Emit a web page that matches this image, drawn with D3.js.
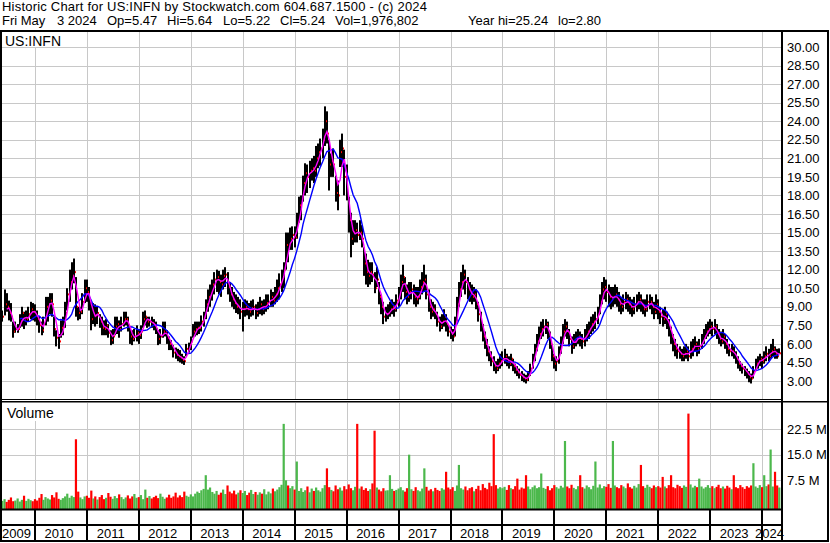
<!DOCTYPE html>
<html><head><meta charset="utf-8">
<script src="https://cdn.jsdelivr.net/npm/d3@7"></script>
<style>
body{margin:0;background:#fff}
svg{display:block}
text{font-family:"Liberation Sans",Arial,sans-serif;fill:#000}
</style>
</head><body>
<svg id="c" width="830" height="543"></svg>
<script>
const title1 = "Historic Chart for US:INFN by Stockwatch.com 604.687.1500 - (c) 2024";
const title2 = "Fri May  3 2024  Op=5.47  Hi=5.64  Lo=5.22  Cl=5.24  Vol=1,976,802  Year hi=25.24  lo=2.80";
const symbol = "US:INFN";
const volumeLabel = "Volume";
const priceTicks = [3,4.5,6,7.5,9,10.5,12,13.5,15,16.5,18,19.5,21,22.5,24,25.5,27,28.5,30];
const volTicks = [7.5,15,22.5];
const years = [2009,2010,2011,2012,2013,2014,2015,2016,2017,2018,2019,2020,2021,2022,2023,2024];

// semi-monthly bars, first one 2009-05-16, last one 2024-05-01
const high = [
8.7,10.4,10.1,9.5,9.3,7.8,7.8,7.6,8.4,9.0,8.6,8.7,9.0,9.4,9.3,
9.2,8.7,8.2,7.8,8.2,9.8,9.8,10.1,10.1,8.2,7.1,6.8,7.9,8.2,9.4,10.5,12.0,12.6,12.9,11.4,9.0,9.0,10.1,11.2,
11.2,10.6,9.4,9.3,9.2,9.0,8.4,8.2,7.9,8.0,7.6,7.1,7.2,8.2,8.2,7.9,8.2,8.6,8.6,8.2,7.4,7.1,7.2,7.5,
7.2,7.5,8.6,8.7,8.2,8.2,8.2,8.0,7.8,7.1,7.2,7.8,7.8,7.1,6.6,6.3,5.9,5.7,5.6,5.5,5.2,5.0,6.0,6.1,
6.6,7.6,7.8,7.8,7.8,8.3,8.6,9.6,10.4,10.8,11.2,11.8,12.0,11.9,11.6,12.0,12.2,11.8,11.0,10.6,10.2,10.0,9.8,9.6,
9.4,9.6,9.5,9.3,9.5,9.6,9.2,9.4,9.8,9.5,9.6,10.0,10.0,10.4,10.2,10.6,11.2,11.7,12.0,12.6,15.0,15.0,15.4,15.5,
15.5,16.6,17.9,18.0,19.6,20.6,20.5,20.8,21.0,21.2,22.0,22.2,22.6,23.4,25.2,24.8,22.5,21.4,21.8,19.6,19.2,22.5,23.0,21.7,
20.5,17.9,16.6,16.0,16.0,15.8,16.0,15.6,13.8,13.3,12.8,12.6,12.6,11.8,12.2,11.0,10.0,9.4,9.0,9.2,9.4,9.6,9.4,10.0,
10.6,11.6,12.4,11.4,10.8,11.0,11.0,10.8,10.6,10.6,11.2,11.8,12.4,11.6,10.4,9.6,9.4,9.2,8.6,8.2,8.4,8.8,8.4,7.6,
7.4,7.2,8.2,9.8,11.0,11.8,12.4,12.0,11.4,11.0,10.8,10.6,10.4,9.4,8.6,7.6,7.0,6.4,5.8,5.4,5.0,4.6,4.8,5.2,
5.4,5.6,5.2,5.0,5.2,4.8,4.4,4.2,4.0,3.8,3.6,3.5,3.8,4.4,5.2,6.0,6.8,7.4,7.8,8.0,8.0,7.8,7.0,6.0,
5.2,5.0,5.8,6.6,7.6,8.0,7.8,7.2,6.6,6.8,7.0,7.2,7.0,6.8,7.2,7.6,7.8,8.2,8.4,8.6,9.0,10.0,11.0,11.4,
11.2,10.8,10.6,10.6,10.8,10.6,10.2,9.8,10.0,10.2,10.0,9.8,9.6,9.8,10.0,10.2,10.0,9.6,9.6,10.0,10.0,9.8,9.4,10.0,
9.6,9.0,8.8,9.0,8.6,8.0,7.4,6.8,6.4,6.0,5.8,5.6,5.8,6.0,5.8,6.2,6.4,6.6,6.2,6.4,6.8,7.2,7.6,7.8,
8.0,7.8,8.0,7.6,7.2,7.0,7.2,6.8,6.4,6.0,6.0,5.8,5.4,5.0,4.6,4.4,4.2,4.0,3.8,3.6,4.2,4.8,5.0,5.2,
5.0,5.4,5.8,5.6,6.0,6.4,5.8,5.6,5.64];
const low = [
7.8,8.3,8.6,7.9,7.8,6.5,6.9,6.9,7.3,7.4,7.2,7.5,7.8,8.0,7.9,
7.8,7.5,6.9,6.7,6.9,7.5,7.8,8.4,8.2,6.6,5.8,5.6,6.5,6.7,7.3,8.7,9.4,10.4,10.9,8.2,7.9,8.0,8.4,9.3,
9.4,8.7,7.1,7.6,7.4,7.6,7.3,6.7,6.7,6.7,6.5,5.9,6.0,6.7,6.8,6.5,7.0,7.4,7.5,7.0,6.0,5.9,6.2,6.2,
6.0,6.4,7.3,7.5,7.3,7.4,7.3,7.1,6.8,5.9,6.0,6.5,6.6,6.0,5.5,5.5,4.9,4.8,4.6,4.5,4.4,4.3,5.0,5.3,
5.5,6.5,6.6,6.7,6.8,7.0,7.4,8.0,8.6,9.0,9.5,10.0,10.2,10.0,9.8,10.4,10.6,10.0,9.4,9.0,8.8,8.5,8.4,8.0,
7.0,8.2,8.3,8.0,8.2,8.3,8.0,8.2,8.4,8.3,8.4,8.6,8.8,9.0,9.0,9.2,9.4,9.6,10.2,10.5,12.0,12.6,13.6,13.6,
13.8,14.5,15.8,16.0,17.5,18.0,18.2,18.6,19.2,19.0,19.5,20.2,20.4,21.0,22.0,22.2,18.4,19.5,19.5,17.5,16.8,20.3,20.3,18.0,
17.6,15.0,13.0,14.0,14.2,14.2,14.4,13.8,11.5,10.8,10.6,10.8,11.0,10.1,10.6,9.2,8.4,7.6,7.8,8.0,8.2,8.4,8.2,8.6,
9.0,9.6,10.2,9.6,9.2,9.4,9.6,9.2,9.0,9.2,9.6,10.0,10.2,9.6,8.6,8.0,8.2,8.0,7.4,7.0,7.2,7.4,7.0,6.6,
6.4,6.2,6.6,7.8,9.0,9.8,10.4,10.0,9.6,9.4,9.2,9.4,8.8,7.8,7.0,6.2,5.6,5.0,4.6,4.2,3.8,3.6,3.8,4.0,
4.2,4.4,4.2,4.0,4.2,3.8,3.6,3.4,3.2,3.0,2.9,2.8,3.0,3.4,4.0,4.6,5.4,6.0,6.4,6.6,6.8,6.4,5.6,4.6,
4.0,3.8,4.4,5.2,6.0,6.6,6.4,5.8,5.2,5.6,5.8,6.0,5.8,5.6,5.8,6.2,6.4,6.8,7.0,7.2,7.6,8.4,9.2,9.6,
9.4,9.0,8.8,9.0,9.2,9.0,8.6,8.4,8.6,8.8,8.6,8.4,8.2,8.4,8.6,8.8,8.6,8.4,8.2,8.6,8.8,8.4,8.0,8.4,
8.0,7.6,7.4,7.6,7.2,6.6,6.0,5.4,5.0,4.8,4.8,4.6,4.6,4.8,4.6,4.8,5.0,5.4,5.0,5.2,5.6,6.0,6.4,6.6,
6.8,6.6,6.8,6.4,6.0,5.8,6.0,5.6,5.2,5.0,5.0,4.8,4.4,4.0,3.8,3.6,3.4,3.2,2.9,2.8,3.2,3.8,4.0,4.2,
4.0,4.4,4.6,4.6,4.8,5.0,4.8,4.8,5.22];
const close = [
8.2,9.2,9.0,8.5,8.2,7.0,7.2,7.2,7.8,8.5,7.9,8.0,8.4,8.8,8.6,
8.4,8.0,7.5,7.1,7.6,9.0,9.2,9.5,9.2,7.2,6.5,6.2,7.3,7.4,8.5,10.0,11.0,11.5,11.8,9.0,8.5,8.6,9.4,10.5,
10.2,9.5,8.0,8.4,8.3,8.5,7.8,7.3,7.2,7.5,6.9,6.3,6.6,7.4,7.6,7.2,7.6,8.0,8.0,7.5,6.6,6.4,6.6,6.9,
6.7,7.0,8.0,8.2,7.8,7.8,7.7,7.5,7.2,6.4,6.6,7.0,7.0,6.5,6.0,5.9,5.3,5.1,5.0,4.9,4.7,4.6,5.6,5.9,
6.2,7.0,7.2,7.3,7.3,7.8,8.2,9.2,9.8,10.0,10.8,11.2,11.4,11.0,10.8,11.5,11.6,10.6,10.0,9.6,9.3,9.0,9.0,8.6,
8.8,9.0,8.8,8.6,8.9,9.0,8.5,8.8,9.2,8.8,9.0,9.3,9.4,9.8,9.5,10.0,10.5,10.8,11.4,12.0,14.0,13.8,14.5,14.8,
14.6,15.8,17.2,17.5,19.0,19.8,19.5,20.0,20.2,20.0,21.0,21.5,21.8,22.5,24.0,23.0,20.5,20.8,20.5,18.2,18.0,21.5,21.8,19.5,
18.0,16.0,14.5,15.0,15.2,14.8,15.0,14.5,12.5,11.8,11.5,11.8,11.6,10.5,11.2,9.8,9.0,8.2,8.4,8.5,8.8,9.0,8.8,9.5,
10.0,11.0,11.4,10.2,9.8,10.2,10.4,9.8,9.6,9.8,10.6,11.0,11.2,10.0,9.0,8.6,8.8,8.4,7.8,7.4,7.8,8.2,7.6,7.0,
6.8,6.6,7.8,9.2,10.4,11.0,11.6,11.0,10.4,10.0,9.8,10.0,9.2,8.4,7.6,6.6,6.0,5.4,5.0,4.6,4.2,4.0,4.4,4.6,
4.8,5.0,4.6,4.4,4.8,4.2,3.9,3.7,3.5,3.3,3.2,3.1,3.5,4.0,4.8,5.6,6.2,6.8,7.2,7.4,7.6,7.0,6.0,5.0,
4.4,4.6,5.4,6.0,7.0,7.4,7.0,6.4,5.8,6.2,6.4,6.6,6.4,6.2,6.6,7.0,7.2,7.6,7.8,8.0,8.4,9.4,10.4,10.6,
10.2,9.8,9.6,9.8,10.0,9.6,9.2,9.0,9.4,9.6,9.2,9.0,8.8,9.2,9.4,9.6,9.2,8.8,8.8,9.4,9.4,9.0,8.6,9.2,
8.6,8.2,8.0,8.4,7.8,7.2,6.6,6.0,5.6,5.4,5.2,5.0,5.2,5.4,5.0,5.6,5.8,6.0,5.6,5.8,6.2,6.6,7.0,7.2,
7.4,7.2,7.4,6.8,6.4,6.2,6.6,6.0,5.6,5.4,5.4,5.2,4.8,4.4,4.2,4.0,3.8,3.6,3.3,3.2,3.8,4.4,4.6,4.8,
4.6,5.0,5.2,5.0,5.4,5.6,5.2,5.0,5.24];
// volume in millions (tallest daily bar in each half month)
const volume = [
1.5,2.0,1.2,1.8,2.5,1.4,1.6,2.2,1.3,1.8,3.0,1.5,2.1,1.7,1.4,
2.0,1.6,2.4,3.5,1.8,2.6,2.2,1.9,3.2,2.5,4.0,2.1,1.8,2.3,2.8,3.6,2.4,3.0,2.6,19.5,4.2,2.5,2.0,2.8,
3.0,2.4,4.5,2.2,2.8,1.9,2.6,3.2,2.0,2.4,3.8,2.7,2.1,2.9,2.3,3.4,2.6,2.0,2.5,3.1,2.2,2.8,3.5,2.4,
2.6,3.2,2.0,4.8,2.4,2.9,2.2,2.6,3.0,2.3,3.6,2.7,2.1,2.5,3.3,2.4,2.8,3.9,2.5,3.1,2.6,4.2,3.0,2.7,
3.4,2.8,3.6,4.2,3.8,4.6,5.0,9.0,4.8,5.4,4.1,3.6,4.4,3.3,3.9,4.8,3.5,6.0,4.2,3.7,4.5,3.4,3.9,4.6,
3.8,4.4,3.2,3.9,4.7,3.5,4.1,3.3,4.0,3.6,4.9,3.4,4.2,3.7,5.1,4.3,4.8,5.5,6.2,24.0,7.5,6.0,5.2,5.8,
4.8,13.0,4.4,5.2,4.1,4.6,5.7,4.0,5.1,4.4,5.4,4.6,4.2,5.2,6.1,11.0,5.5,4.7,4.3,6.0,4.9,5.4,4.5,5.8,
4.9,6.3,5.2,4.6,5.6,24.0,5.1,5.7,4.7,5.2,4.4,4.9,6.6,22.0,5.4,4.8,4.3,5.2,4.5,4.6,9.0,5.0,4.4,4.7,
5.1,5.5,4.6,4.2,5.2,15.0,4.9,4.4,5.5,4.6,4.3,5.1,11.0,5.6,4.5,4.9,4.3,5.3,4.7,4.4,5.2,4.8,10.0,5.4,
4.9,5.5,4.4,6.0,12.0,5.2,4.8,5.7,4.6,5.2,5.5,4.3,5.0,5.9,4.6,6.4,5.3,4.9,6.8,5.8,21.0,6.1,5.1,5.5,
5.2,5.6,4.7,6.1,5.2,4.9,5.8,8.0,4.8,5.4,5.1,9.0,5.7,4.9,5.5,6.0,5.2,5.5,9.5,5.3,5.0,5.8,4.6,5.2,
6.1,5.5,5.1,5.9,5.4,19.0,5.7,5.2,6.2,5.3,4.9,5.8,9.0,5.5,5.1,6.0,5.5,4.9,5.9,13.0,5.4,6.3,5.2,5.8,
5.6,6.4,5.3,19.0,6.0,5.5,5.2,6.1,5.7,5.2,6.6,5.5,5.1,5.9,5.4,6.4,12.0,5.8,5.3,6.2,5.6,5.2,6.0,5.5,
5.8,5.4,8.5,5.7,5.2,6.1,9.0,5.5,5.2,6.2,5.8,5.3,6.0,5.6,27.0,6.3,5.4,5.9,5.5,8.0,5.7,5.1,5.5,6.1,
5.3,5.8,5.2,5.6,6.2,5.2,5.7,5.1,5.9,5.4,4.9,9.0,5.5,5.2,6.1,5.5,5.0,5.8,5.4,6.0,12.5,5.7,5.3,6.1,
5.5,9.0,5.8,6.3,16.5,5.7,10.0,6.0,5.4];

const shortWin = 3, longWin = 9;

const svg = d3.select("#c");
const X0 = 2, X1 = 781;
const PT = 32, PB = 399, VT = 403, VB = 509;

const dates = close.map((_, i) => new Date(2009, 4 + Math.floor((i + 1) / 2), (i + 1) % 2 ? 16 : 1));
const x = d3.scaleTime().domain([new Date(2009, 4, 14), new Date(2024, 4, 13)]).range([X0, X1]);
const yP = d3.scaleLinear().domain([3, 30]).range([381, 47]);
const yV = d3.scaleLinear().domain([0, 22.5]).range([506, 429]);

svg.append("rect").attr("width", 830).attr("height", 543).attr("fill", "#fff");

// header
svg.append("text").attr("x", 2).attr("y", 11).attr("font-size", 13)
  .attr("textLength", 425).attr("lengthAdjust", "spacing").text(title1);
const seg = title2.split(/\s{2,}/);
const segX = [2, 57, 107, 167, 223, 280, 335, 468, 558];
svg.append("g").selectAll("text").data(seg).join("text")
  .attr("x", (d, i) => segX[i]).attr("y", 25).attr("font-size", 13).text(d => d);

const defs = svg.append("defs");
defs.append("clipPath").attr("id", "cp").append("rect").attr("x", X0).attr("y", PT).attr("width", X1 - X0).attr("height", PB - PT);
defs.append("clipPath").attr("id", "cv").append("rect").attr("x", X0).attr("y", VT).attr("width", X1 - X0).attr("height", VB - VT);

const yearStarts = years.slice(1).map(y => new Date(y, 0, 1));
const grid = "#c8c8c8";
const snap = v => Math.round(v) + 0.5;

// price grid
const gp = svg.append("g").attr("clip-path", "url(#cp)");
gp.selectAll("line.h").data(priceTicks).join("line")
  .attr("x1", X0).attr("x2", X1).attr("y1", d => snap(yP(d))).attr("y2", d => snap(yP(d)))
  .attr("stroke", grid);
gp.selectAll("line.v").data(yearStarts).join("line")
  .attr("x1", d => snap(x(d))).attr("x2", d => snap(x(d))).attr("y1", PT).attr("y2", PB)
  .attr("stroke", grid);

// volume grid
const gv = svg.append("g").attr("clip-path", "url(#cv)");
gv.selectAll("line.h").data(volTicks).join("line")
  .attr("x1", X0).attr("x2", X1).attr("y1", d => snap(yV(d))).attr("y2", d => snap(yV(d)))
  .attr("stroke", grid);
gv.selectAll("line.v").data(yearStarts).join("line")
  .attr("x1", d => snap(x(d))).attr("x2", d => snap(x(d))).attr("y1", VT).attr("y2", VB)
  .attr("stroke", grid);

// panel labels with white backing
svg.append("rect").attr("x", X0).attr("y", PT).attr("width", 62).attr("height", 15).attr("fill", "#fff");
svg.append("text").attr("x", 5).attr("y", 46).attr("font-size", 14).text(symbol);
svg.append("rect").attr("x", X0).attr("y", VT).attr("width", 58).attr("height", 18).attr("fill", "#fff");
svg.append("text").attr("x", 7).attr("y", 418).attr("font-size", 14).text(volumeLabel);

// price bars
const idx = d3.range(close.length);
const bars = svg.append("g").attr("clip-path", "url(#cp)");
bars.selectAll("rect.b").data(idx).join("rect")
  .attr("x", i => Math.round(x(dates[i])) - 1).attr("width", 2)
  .attr("y", i => yP(high[i])).attr("height", i => Math.max(1, yP(low[i]) - yP(high[i])))
  .attr("fill", "#000");
bars.selectAll("rect.c").data(idx).join("rect")
  .attr("x", i => Math.round(x(dates[i])) + 1).attr("width", 1)
  .attr("y", i => yP(close[i]) - 1).attr("height", 2)
  .attr("fill", "#ff0000");

function movingAvg(win) {
  return idx.filter(i => i >= win - 1).map(i => [dates[i], d3.mean(close.slice(i - win + 1, i + 1))]);
}
const line = d3.line().x(d => x(d[0])).y(d => yP(d[1]));
bars.append("path").attr("d", line(movingAvg(longWin))).attr("fill", "none").attr("stroke", "#0000ff").attr("stroke-width", 1.4);
bars.append("path").attr("d", line(movingAvg(shortWin))).attr("fill", "none").attr("stroke", "#ff00ff").attr("stroke-width", 1.4);

// volume bars
const vb = svg.append("g").attr("clip-path", "url(#cv)");
vb.selectAll("rect").data(idx).join("rect")
  .attr("x", i => x(dates[i]) - 1.1).attr("width", 2.2)
  .attr("y", i => yV(volume[i])).attr("height", i => VB - yV(volume[i]))
  .attr("fill", i => (i > 0 && close[i] < close[i - 1]) ? "#ff0000" : "#4cb84c");

// axes on the right
const axP = svg.append("g").attr("transform", "translate(783,0)")
  .call(d3.axisRight(yP).tickValues(priceTicks).tickFormat(d3.format(".2f")).tickSize(0).tickPadding(4));
const axV = svg.append("g").attr("transform", "translate(783,0)")
  .call(d3.axisRight(yV).tickValues(volTicks).tickFormat(d => d3.format(".1f")(d) + " M").tickSize(0).tickPadding(4));
[axP, axV].forEach(a => {
  a.select(".domain").remove();
  a.selectAll("text").attr("font-size", 13).attr("font-family", "'Liberation Sans',Arial,sans-serif").attr("fill", "#000");
});

// frame lines
const blk = "#000";
svg.append("rect").attr("x", 0).attr("y", 399).attr("width", 782).attr("height", 1).attr("fill", blk);
svg.append("rect").attr("x", 0).attr("y", 401).attr("width", 829).attr("height", 1.5).attr("fill", blk);
svg.append("rect").attr("x", 0).attr("y", 508.5).attr("width", 782).attr("height", 2).attr("fill", blk);
svg.append("rect").attr("x", 0).attr("y", 524).attr("width", 782).attr("height", 2).attr("fill", blk);
svg.append("g").selectAll("rect").data(yearStarts).join("rect")
  .attr("x", d => Math.round(x(d)) - 1).attr("width", 2).attr("y", 510).attr("height", 31).attr("fill", blk);
svg.append("rect").attr("x", 781).attr("y", 31).attr("width", 2).attr("height", 510).attr("fill", blk);
svg.append("rect").attr("x", 1).attr("y", 31).attr("width", 827).attr("height", 510)
  .attr("fill", "none").attr("stroke", blk).attr("stroke-width", 2);

// year labels
svg.append("g").selectAll("text").data(years).join("text")
  .attr("x", y => {
    const a = Math.max(X0, x(new Date(y, 0, 1))), b = Math.min(X1, x(new Date(y + 1, 0, 1)));
    return (a + b) / 2 - 2;
  })
  .attr("y", 538).attr("text-anchor", "middle").attr("font-size", 13).text(y => y);
</script>
</body></html>
